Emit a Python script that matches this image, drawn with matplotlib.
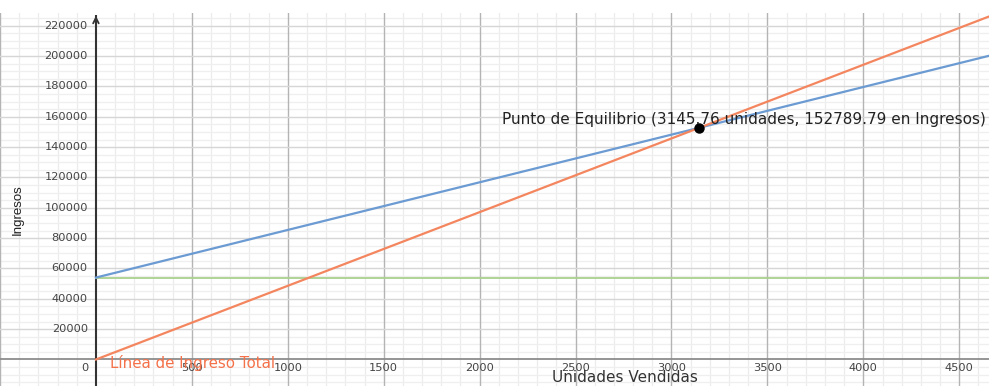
import matplotlib
matplotlib.use("Agg")
import matplotlib.pyplot as plt
import numpy as np

# Break-even data
unidades = [0, 4700]
ingreso_total = [0, 228280]
costo_total = [54000, 201600]
costo_fijo = [54000, 54000]
equilibrio_unidades = 3145.76
equilibrio_ingresos = 152789.79

x_ticks = [0, 500, 1000, 1500, 2000, 2500, 3000, 3500, 4000, 4500]
y_ticks = [0, 20000, 40000, 60000, 80000, 100000, 120000, 140000,
           160000, 180000, 200000, 220000]

plt.rcParams['font.family'] = ['DejaVu Sans']

fig = plt.figure(figsize=(9.89, 3.86), dpi=100)
ax = fig.add_axes([0, 0, 1, 373 / 386])
xmin, xmax = -500, 4655
ymin, ymax = -17470, 228400
ax.set_xlim(xmin, xmax)
ax.set_ylim(ymin, ymax)
for s in ax.spines.values():
    s.set_visible(False)
ax.set_xticks([])
ax.set_yticks([])

# grid: minor then major
for xv in np.arange(-400, 4700, 100):
    if xv % 500 != 0:
        ax.axvline(xv, color='#ececec', lw=0.9, zorder=0)
for yv in np.arange(-15000, 230000, 5000):
    if yv % 20000 != 0:
        ax.axhline(yv, color='#efefef', lw=0.9, zorder=0)
for xv in [-500] + x_ticks:
    if xv != 0:
        ax.axvline(xv, color='#b4b4b4', lw=1.0, zorder=0.5)
for yv in y_ticks + [-20000, 240000]:
    if yv != 0:
        ax.axhline(yv, color='#d6d6d6', lw=1.0, zorder=0.5)

# axes
ax.axhline(0, color='#8c8c8c', lw=1.3, zorder=1)
ax.plot([0, 0], [ymin, ymax - 1500], color='#333333', lw=1.5, zorder=1,
        solid_capstyle='butt')
ax.annotate('', xy=(0, ymax), xytext=(0, ymax - 6000),
            arrowprops=dict(arrowstyle='->', color='#333333', lw=1.3,
                            mutation_scale=10), zorder=1)

# tick labels
tick_kw = dict(fontsize=8.2, color='#444444', va='center')
for xv in x_ticks:
    if xv == 0:
        ax.text(-57, -5300, '0', ha='center', **tick_kw)
    else:
        ax.text(xv, -5300, str(xv), ha='center', **tick_kw)
for yv in y_ticks[1:]:
    ax.text(-42, yv, str(yv), ha='right', **tick_kw)

# lines
ax.plot(unidades, costo_fijo, color='#a9d18e', lw=1.3, zorder=2)
ax.plot(unidades, costo_total, color='#6b9bd2', lw=1.6, zorder=3)
ax.plot(unidades, ingreso_total, color='#f4865f', lw=1.6, zorder=3)
ax.plot([equilibrio_unidades], [equilibrio_ingresos], 'o', color='black',
        markersize=6.5, zorder=4)

ax.text(2116, 157900,
        f'Punto de Equilibrio ({equilibrio_unidades:.2f} unidades, '
        f'{equilibrio_ingresos:.2f} en Ingresos)',
        fontsize=11, color='#222222', ha='left', va='center', zorder=5)
ax.text(73, -2600, 'Línea de Ingreso Total', fontsize=10.8,
        color='#f4714a', ha='left', va='center', zorder=5)

ax.text(2757, -12000, 'Unidades Vendidas', fontsize=11, color='#333333',
        ha='center', va='center', zorder=5)
ax.text(-407, 98800, 'Ingresos', fontsize=9.5, color='#222222',
        family=['Liberation Sans Narrow', 'Liberation Sans'],
        rotation=90, ha='center', va='center', zorder=5)

fig.savefig('out.png', dpi=100)
